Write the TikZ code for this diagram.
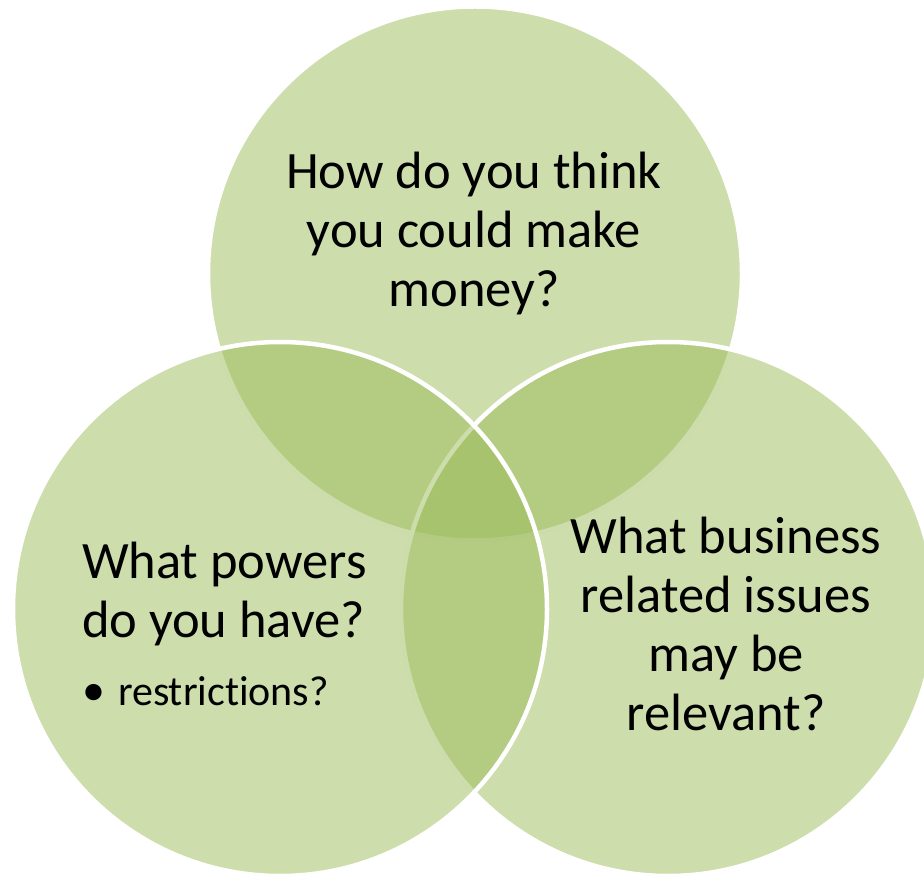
\documentclass[tikz,border=0pt]{standalone}
\usepackage{fontspec}
\setmainfont{Carlito}[Ligatures={NoCommon}]
\definecolor{venngreen}{RGB}{155,187,89}
\begin{document}
\begin{tikzpicture}[x=1pt,y=-1pt,
  venn/.style={circle, minimum size=534pt, inner sep=0pt, outer sep=0pt, fill=venngreen, fill opacity=0.5, draw=white, line width=4.5pt},
  lbl/.style={font=\fontsize{52.5}{59}\selectfont, text=black, inner sep=0pt, outer sep=0pt},
  sublbl/.style={font=\fontsize{42}{50}\selectfont, text=black, inner sep=0pt, outer sep=0pt}]
\useasboundingbox (0,0) rectangle (924,874);
\clip (0,0) rectangle (924,874);
\node[venn] (ctop) at (475,273.5) {};
\node[venn] (cright) at (668,609) {};
\node[venn] (cleft) at (280,609) {};
\node[lbl, align=center, anchor=base] (ttop) at (474,307) {How do you think\\you could make\\money?};
\node[lbl, align=center, anchor=base] (tright) at (726,730) {What business\\related issues\\may be\\relevant?};
\node[lbl, align=left, anchor=base west] (tleft) at (82,637) {What powers\\do you have?};
\node[sublbl, anchor=base west] (tbullet) at (82,705) {\makebox[36pt][l]{\hspace{0pt}{\fontsize{46}{50}\selectfont•}}restrictions?};
\end{tikzpicture}
\end{document}
